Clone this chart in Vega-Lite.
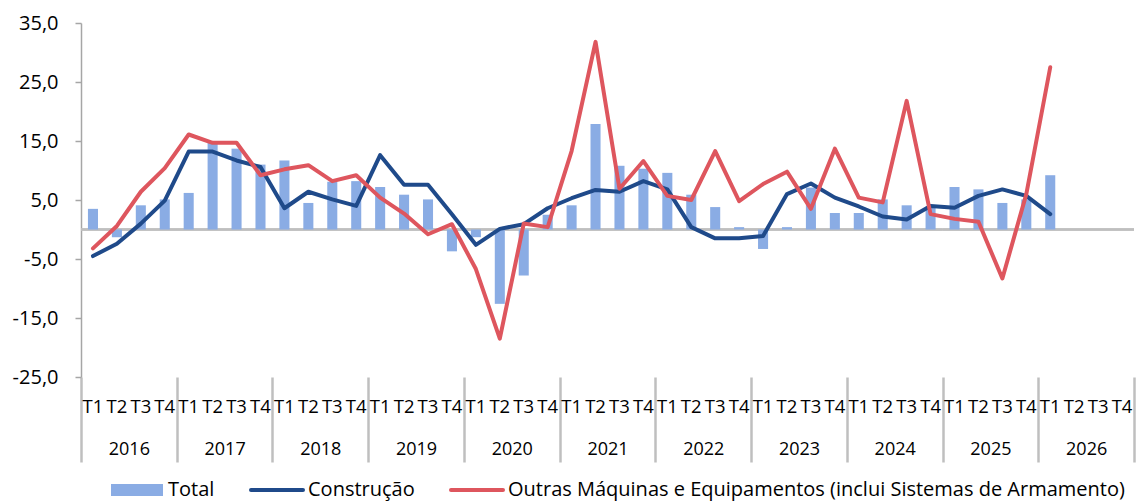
{
  "$schema": "https://vega.github.io/schema/vega-lite/v6.json",
  "width": 1053,
  "height": 354,
  "autosize": {"type": "none"},
  "padding": {"left": 81, "top": 23, "right": 12, "bottom": 125},
  "config": {
    "font": "Open Sans",
    "view": {"stroke": null},
    "axis": {"labelFont": "Open Sans", "labelColor": "#000000"},
    "legend": {"labelFont": "Open Sans"}
  },
  "data": {
    "values": [
      {"t": "2016 T1", "year": "2016", "total": 3.5, "constr": -4.5, "outras": -3.2},
      {"t": "2016 T2", "year": "2016", "total": -1.3, "constr": -2.4, "outras": 0.6},
      {"t": "2016 T3", "year": "2016", "total": 4.1, "constr": 1.0, "outras": 6.4},
      {"t": "2016 T4", "year": "2016", "total": 5.1, "constr": 4.9, "outras": 10.4},
      {"t": "2017 T1", "year": "2017", "total": 6.2, "constr": 13.2, "outras": 16.1},
      {"t": "2017 T2", "year": "2017", "total": 14.7, "constr": 13.2, "outras": 14.7},
      {"t": "2017 T3", "year": "2017", "total": 13.7, "constr": 11.7, "outras": 14.7},
      {"t": "2017 T4", "year": "2017", "total": 11.0, "constr": 10.6, "outras": 9.2},
      {"t": "2018 T1", "year": "2018", "total": 11.7, "constr": 3.6, "outras": 10.2},
      {"t": "2018 T2", "year": "2018", "total": 4.5, "constr": 6.4, "outras": 10.9},
      {"t": "2018 T3", "year": "2018", "total": 8.1, "constr": 5.1, "outras": 8.2},
      {"t": "2018 T4", "year": "2018", "total": 8.2, "constr": 4.0, "outras": 9.2},
      {"t": "2019 T1", "year": "2019", "total": 7.2, "constr": 12.6, "outras": 5.4},
      {"t": "2019 T2", "year": "2019", "total": 5.9, "constr": 7.6, "outras": 2.7},
      {"t": "2019 T3", "year": "2019", "total": 5.1, "constr": 7.6, "outras": -0.8},
      {"t": "2019 T4", "year": "2019", "total": -3.7, "constr": 2.6, "outras": 0.9},
      {"t": "2020 T1", "year": "2020", "total": -1.3, "constr": -2.6, "outras": -6.7},
      {"t": "2020 T2", "year": "2020", "total": -12.6, "constr": 0.1, "outras": -18.5},
      {"t": "2020 T3", "year": "2020", "total": -7.8, "constr": 0.9, "outras": 1.0},
      {"t": "2020 T4", "year": "2020", "total": 2.5, "constr": 3.6, "outras": 0.4},
      {"t": "2021 T1", "year": "2021", "total": 4.1, "constr": 5.3, "outras": 13.3},
      {"t": "2021 T2", "year": "2021", "total": 17.9, "constr": 6.7, "outras": 31.8},
      {"t": "2021 T3", "year": "2021", "total": 10.8, "constr": 6.4, "outras": 6.9},
      {"t": "2021 T4", "year": "2021", "total": 10.3, "constr": 8.2, "outras": 11.6},
      {"t": "2022 T1", "year": "2022", "total": 9.6, "constr": 6.8, "outras": 5.7},
      {"t": "2022 T2", "year": "2022", "total": 5.9, "constr": 0.4, "outras": 5.0},
      {"t": "2022 T3", "year": "2022", "total": 3.8, "constr": -1.5, "outras": 13.3},
      {"t": "2022 T4", "year": "2022", "total": 0.4, "constr": -1.5, "outras": 4.8},
      {"t": "2023 T1", "year": "2023", "total": -3.3, "constr": -1.1, "outras": 7.7},
      {"t": "2023 T2", "year": "2023", "total": 0.4, "constr": 6.0, "outras": 9.8},
      {"t": "2023 T3", "year": "2023", "total": 7.1, "constr": 7.8, "outras": 3.5},
      {"t": "2023 T4", "year": "2023", "total": 2.8, "constr": 5.4, "outras": 13.7},
      {"t": "2024 T1", "year": "2024", "total": 2.8, "constr": 3.9, "outras": 5.4},
      {"t": "2024 T2", "year": "2024", "total": 5.1, "constr": 2.2, "outras": 4.6},
      {"t": "2024 T3", "year": "2024", "total": 4.1, "constr": 1.7, "outras": 21.8},
      {"t": "2024 T4", "year": "2024", "total": 3.9, "constr": 4.0, "outras": 2.6},
      {"t": "2025 T1", "year": "2025", "total": 7.2, "constr": 3.7, "outras": 1.8},
      {"t": "2025 T2", "year": "2025", "total": 6.8, "constr": 5.7, "outras": 1.3},
      {"t": "2025 T3", "year": "2025", "total": 4.5, "constr": 6.8, "outras": -8.3},
      {"t": "2025 T4", "year": "2025", "total": 5.1, "constr": 5.7, "outras": 6.0},
      {"t": "2026 T1", "year": "2026", "total": 9.2, "constr": 2.6, "outras": 27.5},
      {"t": "2026 T2", "year": "2026", "total": null, "constr": null, "outras": null},
      {"t": "2026 T3", "year": "2026", "total": null, "constr": null, "outras": null},
      {"t": "2026 T4", "year": "2026", "total": null, "constr": null, "outras": null}
    ]
  },
  "layer": [
    {
      "mark": {"type": "bar", "fill": "transparent", "stroke": "#BFBFBF", "strokeWidth": 2},
      "encoding": {
        "x": {
          "field": "year",
          "type": "ordinal",
          "scale": {"type": "band", "paddingInner": 0, "paddingOuter": 0},
          "axis": {
            "orient": "bottom",
            "title": null,
            "domain": false,
            "ticks": true,
            "tickBand": "extent",
            "tickSize": 85,
            "tickColor": "#BFBFBF",
            "tickWidth": 2.5,
            "labelPadding": -22,
            "labelFontSize": 18,
            "labelAngle": 0
          }
        },
        "y": {"datum": 0, "type": "quantitative", "scale": {"domain": [-25, 35], "nice": false, "zero": false}}
      }
    },
    {
      "encoding": {
        "x": {
          "field": "t",
          "type": "ordinal",
          "scale": {
            "domain": ["2016 T1","2016 T2","2016 T3","2016 T4","2017 T1","2017 T2","2017 T3","2017 T4","2018 T1","2018 T2","2018 T3","2018 T4","2019 T1","2019 T2","2019 T3","2019 T4","2020 T1","2020 T2","2020 T3","2020 T4","2021 T1","2021 T2","2021 T3","2021 T4","2022 T1","2022 T2","2022 T3","2022 T4","2023 T1","2023 T2","2023 T3","2023 T4","2024 T1","2024 T2","2024 T3","2024 T4","2025 T1","2025 T2","2025 T3","2025 T4","2026 T1","2026 T2","2026 T3","2026 T4"],
            "paddingInner": 0.58,
            "paddingOuter": 0.29
          },
          "axis": {
            "orient": "bottom",
            "title": null,
            "domain": false,
            "ticks": false,
            "labelAngle": 0,
            "labelExpr": "split(datum.value, ' ')[1]",
            "labelPadding": 20,
            "labelFontSize": 18.5,
            "labelOverlap": false,
            "labelBound": false
          }
        }
      },
      "layer": [
        {
          "mark": {"type": "bar"},
          "encoding": {
            "y": {
              "field": "total",
              "type": "quantitative",
              "scale": {"domain": [-25, 35], "nice": false, "zero": false},
              "axis": {
                "title": null,
                "values": [-25, -15, -5, 5, 15, 25, 35],
                "labelExpr": "replace(replace(format(datum.value, '.1f'), '.', ','), '\u2212', '-')",
                "grid": false,
                "domainColor": "#A6A6A6",
                "domainWidth": 1.5,
                "tickColor": "#A6A6A6",
                "tickSize": 6,
                "tickWidth": 1.5,
                "labelFontSize": 20,
                "labelPadding": 17
              }
            },
            "color": {
              "datum": "Total",
              "type": "nominal",
              "scale": {
                "domain": ["Total", "Construção", "Outras Máquinas e Equipamentos (inclui Sistemas de Armamento)"],
                "range": ["#8AACE4", "#1F4A8A", "#DE565E"]
              },
              "legend": {
                "title": null,
                "orient": "none",
                "legendX": 29,
                "legendY": 457,
                "direction": "horizontal",
                "labelFontSize": 20,
                "labelColor": "#000000",
                "labelLimit": 900,
                "symbolSize": 2704,
                "labelOffset": 5,
                "columnPadding": 28,
                "encode": {
                  "symbols": {
                    "update": {
                      "x": {"value": 27},
                      "shape": {"signal": "datum.value === 'Total' ? 'M-1,-0.23H1V0.23H-1Z' : 'M-1,0H1'"},
                      "size": {"value": 2704},
                      "fill": {"signal": "datum.value === 'Total' ? '#8AACE4' : 'transparent'"},
                      "stroke": {"signal": "datum.value === 'Total' ? 'transparent' : scale('color', datum.value)"},
                      "strokeWidth": {"signal": "datum.value === 'Total' ? 0 : 4"},
                      "strokeCap": {"value": "round"},
                      "opacity": {"value": 1}
                    }
                  },
                  "labels": {
                    "update": {
                      "x": {"value": 58}
                    }
                  }
                }
              }
            }
          }
        },
        {
          "mark": {"type": "line", "strokeWidth": 4, "strokeCap": "round", "strokeJoin": "round"},
          "encoding": {
            "y": {"field": "constr", "type": "quantitative"},
            "color": {"datum": "Construção", "type": "nominal"}
          }
        },
        {
          "mark": {"type": "line", "strokeWidth": 4, "strokeCap": "round", "strokeJoin": "round"},
          "encoding": {
            "y": {"field": "outras", "type": "quantitative"},
            "color": {"datum": "Outras Máquinas e Equipamentos (inclui Sistemas de Armamento)", "type": "nominal"}
          }
        }
      ]
    }
  ],
  "resolve": {"scale": {"x": "independent"}, "axis": {"x": "independent"}}
}
